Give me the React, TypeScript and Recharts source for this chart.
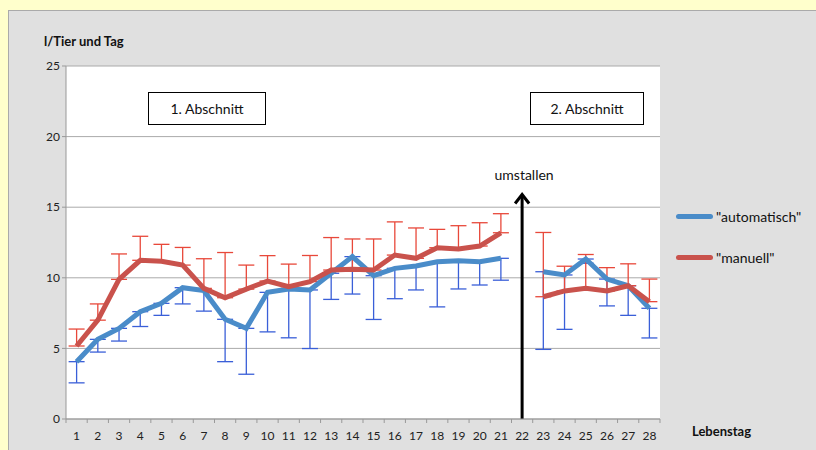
import React from "react";
import {
  ComposedChart,
  Line,
  XAxis,
  YAxis,
  CartesianGrid,
  ErrorBar,
  ReferenceLine,
} from "recharts";

const days = [
  1, 2, 3, 4, 5, 6, 7, 8, 9, 10, 11, 12, 13, 14, 15, 16, 17, 18, 19, 20, 21,
  22, 23, 24, 25, 26, 27, 28,
];

// "automatisch" – mean and downward error
const automatisch = [
  4.06, 5.64, 6.42, 7.6, 8.19, 9.3, 9.09, 7.06, 6.42, 8.97, 9.2, 9.14, 10.32,
  11.5, 10.15, 10.67, 10.84, 11.14, 11.21, 11.14, 11.38, null, 10.43, 10.2,
  11.33, 9.91, 9.44, 7.84,
];
const automatischFehler = [
  1.5, 0.9, 0.9, 1.05, 0.85, 1.15, 1.45, 3.0, 3.25, 2.8, 3.45, 4.15, 1.85,
  2.65, 3.1, 2.15, 1.7, 3.2, 2.0, 1.65, 1.55, null, 5.5, 3.85, 0.3, 1.9, 2.1,
  2.1,
];

// "manuell" – mean and upward error
const manuell = [
  5.17, 7.0, 9.89, 11.24, 11.17, 10.9, 9.25, 8.59, 9.2, 9.77, 9.37, 9.73,
  10.55, 10.6, 10.55, 11.61, 11.38, 12.13, 12.04, 12.25, 13.19, null, 8.66,
  9.07, 9.25, 9.07, 9.44, 8.31,
];
const manuellFehler = [
  1.2, 1.15, 1.8, 1.7, 1.2, 1.25, 2.1, 3.2, 1.7, 1.8, 1.6, 1.85, 2.3, 2.15,
  2.2, 2.35, 2.15, 1.3, 1.65, 1.65, 1.35, null, 4.55, 1.75, 2.4, 1.65, 1.55,
  1.6,
];

const yTicks = [0, 5, 10, 15, 20, 25];
const umstallenTag = 22;
const umstallenHoehe = 15.9;

const FONT = "Lato, 'Open Sans', sans-serif";
const BLUE = "#4a8cc9";
const RED = "#c9524c";
const BLUE_ERR = "#3a5fd8";
const RED_ERR = "#e8483a";

const PLOT_W = 594;
const STEP = PLOT_W / days.length;

const data = days.map((d, i) => ({
  day: d,
  auto: automatisch[i],
  autoErr:
    automatischFehler[i] == null ? null : [automatischFehler[i], 0],
  man: manuell[i],
  manErr: manuellFehler[i] == null ? null : [0, manuellFehler[i]],
}));

function DayTick({ x, y, payload, index }: any) {
  const last = index === days.length - 1;
  return (
    <g>
      <line x1={x - STEP / 2} y1={y - 8} x2={x - STEP / 2} y2={y - 4} stroke="#999" />
      {last && (
        <line x1={x + STEP / 2} y1={y - 8} x2={x + STEP / 2} y2={y - 4} stroke="#999" />
      )}
      <text x={x} y={y + 13} textAnchor="middle" fontSize={12} fill="#222" fontFamily={FONT}>
        {payload.value}
      </text>
    </g>
  );
}

function Arrow(p: any) {
  const top = Math.min(p.y1, p.y2);
  const bottom = Math.max(p.y1, p.y2);
  const x = p.x1;
  return (
    <g>
      <line x1={x} y1={bottom} x2={x} y2={top + 2} stroke="#000" strokeWidth={3} />
      <polyline
        points={`${x - 7},${top + 9} ${x},${top} ${x + 7},${top + 9}`}
        fill="none"
        stroke="#000"
        strokeWidth={3}
      />
      <text x={x + 2} y={top - 14} textAnchor="middle" fontSize={14} fill="#111" fontFamily={FONT}>
        umstallen
      </text>
    </g>
  );
}

const boxStyle: React.CSSProperties = {
  position: "absolute",
  top: 92,
  height: 33,
  border: "1px solid #000",
  background: "#fff",
  boxSizing: "border-box",
  display: "flex",
  alignItems: "center",
  justifyContent: "center",
  fontFamily: FONT,
  fontSize: 14,
  color: "#111",
};

export default function App() {
  return (
    <div
      style={{
        position: "fixed",
        left: 0,
        top: 0,
        width: 816,
        height: 450,
        background: "#ffffcc",
        overflow: "hidden",
      }}
    >
      <div
        style={{
          position: "absolute",
          left: 8,
          top: 10,
          width: 820,
          height: 450,
          background: "#e0e0e0",
          border: "1px solid #aaa",
        }}
      />
      <div style={{ position: "absolute", left: 0, top: 0 }}>
        <ComposedChart
          width={816}
          height={450}
          data={data}
          margin={{ top: 66, right: 156, bottom: 0, left: 36 }}
        >
          <CartesianGrid fill="#fff" stroke="#aaa" vertical={false} />
          <XAxis
            dataKey="day"
            type="number"
            domain={[0.5, 28.5]}
            ticks={days}
            interval={0}
            height={31}
            axisLine={{ stroke: "#999" }}
            tickLine={false}
            tick={<DayTick />}
          />
          <YAxis
            domain={[0, 25]}
            ticks={yTicks}
            width={30}
            axisLine={{ stroke: "#999" }}
            tickLine={{ stroke: "#999" }}
            tickSize={4}
            tick={{ fontSize: 12, fill: "#222", fontFamily: FONT }}
          />
          <ReferenceLine
            segment={[
              { x: umstallenTag, y: 0 },
              { x: umstallenTag, y: umstallenHoehe },
            ]}
            shape={<Arrow />}
            ifOverflow="visible"
          />
          {/* error bars first, so the lines sit on top of them */}
          <Line dataKey="auto" stroke="none" dot={false} isAnimationActive={false}>
            <ErrorBar dataKey="autoErr" stroke={BLUE_ERR} strokeWidth={1.3} width={8} direction="y" />
          </Line>
          <Line dataKey="man" stroke="none" dot={false} isAnimationActive={false}>
            <ErrorBar dataKey="manErr" stroke={RED_ERR} strokeWidth={1.3} width={8} direction="y" />
          </Line>
          <Line
            dataKey="auto"
            stroke={BLUE}
            strokeWidth={5}
            dot={false}
            isAnimationActive={false}
          />
          <Line
            dataKey="man"
            stroke={RED}
            strokeWidth={5}
            dot={false}
            isAnimationActive={false}
          />
        </ComposedChart>
      </div>

      <div
        style={{
          position: "absolute",
          left: 44,
          top: 33,
          fontFamily: FONT,
          fontWeight: 700,
          fontSize: 13,
          color: "#111",
        }}
      >
        l/Tier und Tag
      </div>
      <div style={{ ...boxStyle, left: 148, width: 118 }}>1. Abschnitt</div>
      <div style={{ ...boxStyle, left: 530, width: 114 }}>2. Abschnitt</div>

      {[
        { name: '"automatisch"', color: BLUE, top: 208 },
        { name: '"manuell"', color: RED, top: 249 },
      ].map((l) => (
        <div
          key={l.name}
          style={{
            position: "absolute",
            left: 676,
            top: l.top,
            display: "flex",
            alignItems: "center",
            fontFamily: FONT,
            fontSize: 14,
            color: "#111",
          }}
        >
          <span
            style={{
              display: "inline-block",
              width: 37,
              height: 5,
              borderRadius: 3,
              background: l.color,
              marginRight: 3,
            }}
          />
          {l.name}
        </div>
      ))}

      <div
        style={{
          position: "absolute",
          left: 692,
          top: 423,
          fontFamily: FONT,
          fontWeight: 700,
          fontSize: 13,
          color: "#111",
        }}
      >
        Lebenstag
      </div>
    </div>
  );
}
